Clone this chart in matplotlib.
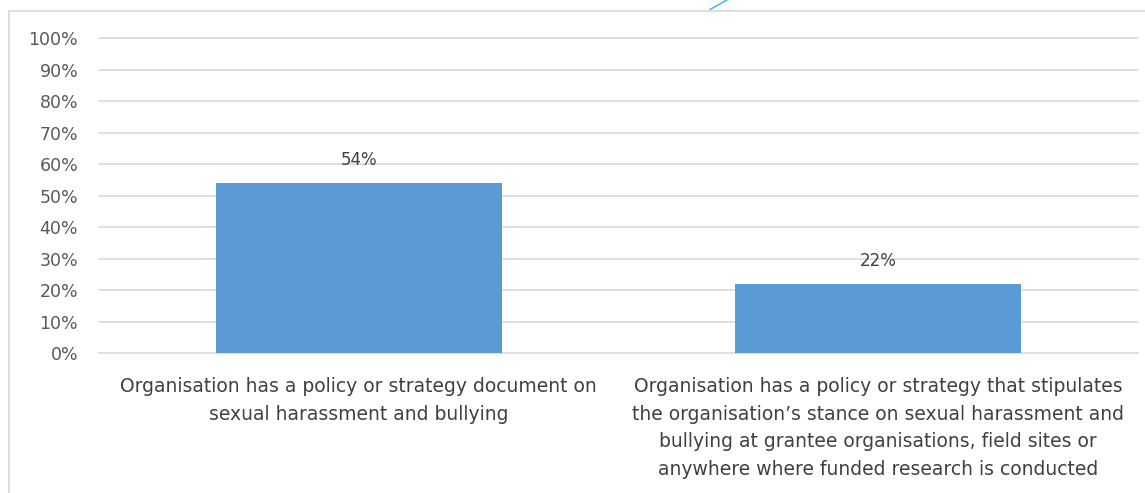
import matplotlib
matplotlib.use("Agg")
import matplotlib.pyplot as plt
from matplotlib.patches import Rectangle
from matplotlib.lines import Line2D

# data
categories = [
    "Organisation has a policy or strategy document on\nsexual harassment and bullying",
    "Organisation has a policy or strategy that stipulates\nthe organisation\u2019s stance on sexual harassment and\nbullying at grantee organisations, field sites or\nanywhere where funded research is conducted",
]
values = [54, 22]
yticks = list(range(0, 101, 10))

W, H = 1145, 493
fig = plt.figure(figsize=(W / 100, H / 100), dpi=100)
fig.patch.set_facecolor("white")

# outer chart frame (partly cropped in the original)
fig.add_artist(Rectangle((9 / W, -0.05), 1.2, 1 - 11 / H + 0.05,
                         transform=fig.transFigure, fill=False,
                         edgecolor="#d9d9d9", linewidth=1.2))
# small stray blue stroke at the top edge
fig.add_artist(Line2D([710 / W, 727 / W], [1 - 9.5 / H, 1.0],
                      transform=fig.transFigure, color="#29b6f6", linewidth=1))

left, right = 99 / W, 1138 / W
bottom, top = 1 - 353.3 / H, 1 - 38.3 / H
ax = fig.add_axes([left, bottom, right - left, top - bottom])

x = list(range(len(values)))
ax.bar(x, values, width=0.55, color="#5b9bd5", zorder=3)
for xi, v in zip(x, values):
    ax.annotate(f"{v}%", (xi, v), xytext=(0, 10), textcoords="offset points",
                ha="center", va="bottom", fontsize=12, color="#404040")

ax.set_xlim(-0.5, 1.5)
ax.set_ylim(0, 100)
ax.set_yticks(yticks)
ax.set_yticklabels([f"{t}%" for t in yticks], fontsize=12.5, color="#595959")
ax.set_xticks(x)
ax.set_xticklabels(categories, fontsize=13.5, color="#404040", linespacing=1.58)
ax.tick_params(axis="both", length=0)
ax.tick_params(axis="y", pad=15)
ax.tick_params(axis="x", pad=17)
ax.grid(axis="y", color="#d9d9d9", linewidth=1.2, zorder=0)
for gl in ax.get_ygridlines():
    gl.set_clip_on(False)
for s in ax.spines.values():
    s.set_visible(False)

fig.savefig("out.png", dpi=100)
